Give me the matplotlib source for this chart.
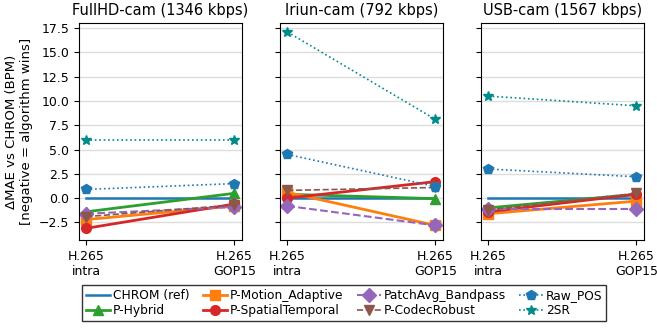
import numpy as np
import matplotlib
matplotlib.use("Agg")
import matplotlib.pyplot as plt
from matplotlib.ticker import MultipleLocator

cams = ["FullHD-cam (1346 kbps)", "Iriun-cam (792 kbps)", "USB-cam (1567 kbps)"]
xlabels = ["H.265\nintra", "H.265\nGOP15"]

# delta MAE vs CHROM, per camera: [intra, GOP15]
chrom = [[0.0, 0.0], [0.0, 0.0], [0.0, 0.0]]
p_hybrid = [[-1.4, 0.5], [0.4, -0.05], [-1.0, 0.4]]
p_motion = [[-2.2, -0.8], [0.6, -2.8], [-1.6, -0.3]]
p_spatial = [[-3.1, -0.6], [0.0, 1.7], [-1.4, 0.4]]
patchavg = [[-1.6, -0.9], [-0.8, -2.8], [-1.1, -1.1]]
p_codec = [[-1.9, -0.7], [0.8, 1.1], [-1.2, 0.5]]
raw_pos = [[0.9, 1.5], [4.5, 1.2], [3.0, 2.2]]
sr2 = [[6.0, 6.0], [17.1, 8.1], [10.5, 9.5]]

series = [
    ("CHROM (ref)", chrom, dict(color="C0", ls="-", marker=None, lw=1.8)),
    ("P-Hybrid", p_hybrid, dict(color="C2", ls="-", marker="^", lw=2)),
    ("P-Motion_Adaptive", p_motion, dict(color="C1", ls="-", marker="s", lw=2)),
    ("P-SpatialTemporal", p_spatial, dict(color="C3", ls="-", marker="o", lw=2)),
    ("PatchAvg_Bandpass", patchavg, dict(color="C4", ls="--", marker="D", lw=1.5)),
    ("P-CodecRobust", p_codec, dict(color="C5", ls="--", marker="v", lw=1.2)),
    ("Raw_POS", raw_pos, dict(color="C0", ls=":", marker="p", lw=1.2)),
    ("2SR", sr2, dict(color="darkcyan", ls=":", marker="*", lw=1.2)),
]

fig, axes = plt.subplots(1, 3, figsize=(6.57, 3.31), dpi=100, sharey=True)
x = np.arange(2)
for i, ax in enumerate(axes):
    for name, vals, st in series:
        ax.plot(x, vals[i], label=name, markersize=7, **st)
    ax.set_title(cams[i], fontsize=10.5)
    ax.set_xticks(x)
    ax.set_xticklabels(xlabels, fontsize=9)
    ax.yaxis.set_major_locator(MultipleLocator(2.5))
    ax.grid(axis="y", color="#dddddd", lw=1)
    ax.set_axisbelow(True)
    ax.tick_params(axis="y", labelsize=9)
axes[0].set_ylim(-4.3, 18.0)
axes[0].set_ylabel("ΔMAE vs CHROM (BPM)\n[negative = algorithm wins]", fontsize=9.5)

handles, labels = axes[0].get_legend_handles_labels()
leg = fig.legend(handles, labels, loc="lower center", ncol=4, fontsize=8.8,
                 bbox_to_anchor=(0.524, 0.012), fancybox=False, edgecolor="black",
                 handlelength=2, columnspacing=1.1, handletextpad=0.2, borderpad=0.3,
                 labelspacing=0.2)
plt.subplots_adjust(left=0.12, right=0.98, top=0.93, bottom=0.275, wspace=0.233)
plt.savefig("out.png")
